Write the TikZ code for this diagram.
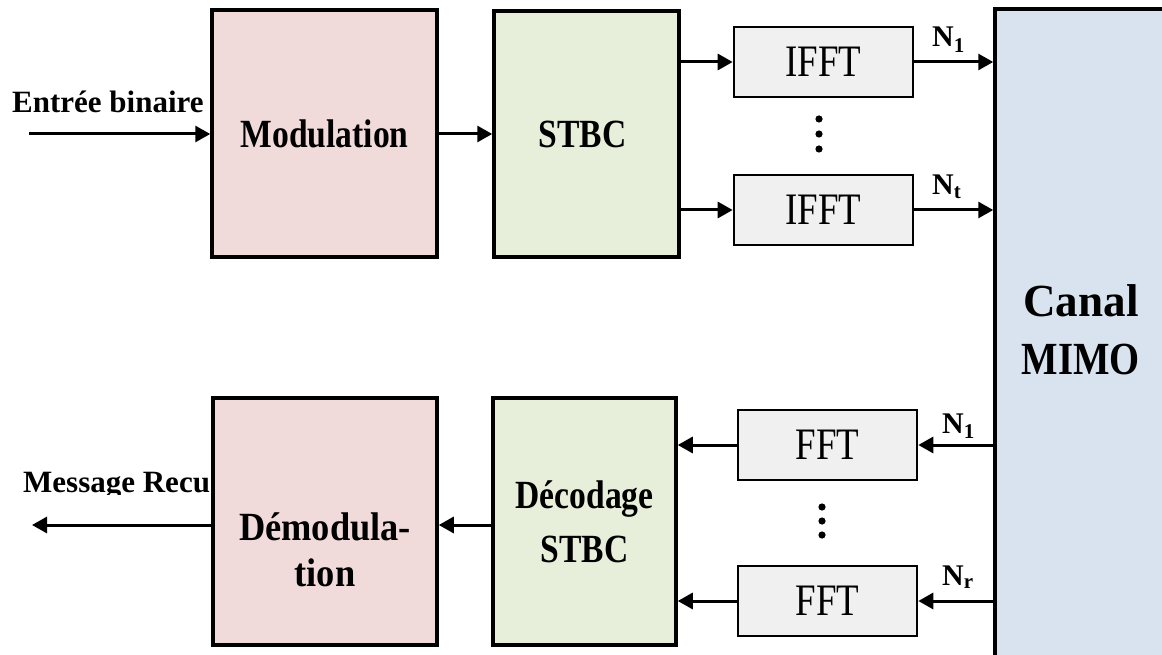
\documentclass[tikz,border=0pt]{standalone}
\usepackage{fontspec}
\setmainfont{Liberation Serif}
\newfontfamily\condf[FakeStretch=0.84]{Liberation Serif}
\newfontfamily\condg[FakeStretch=0.91]{Liberation Serif}
\newfontfamily\condr[FakeStretch=0.82]{Liberation Serif}
\usetikzlibrary{arrows.meta}
\definecolor{pinkfill}{HTML}{F1DADA}
\definecolor{greenfill}{HTML}{E7EFDA}
\definecolor{greyfill}{HTML}{F0F0F0}
\definecolor{bluefill}{HTML}{D9E3F0}
\tikzset{
  bigbox/.style={draw=black, line width=3.5pt, inner sep=0pt},
  smallbox/.style={draw=black, line width=2.6pt, fill=greyfill, inner sep=0pt,
    minimum width=179pt, minimum height=70pt,
    font=\condr\fontsize{45}{50}\selectfont},
  boldlab/.style={font=\condf\bfseries\fontsize{40}{45}\selectfont, inner sep=0pt, align=center},
  sidelab/.style={font=\bfseries\fontsize{31}{36}\selectfont, inner sep=0pt, anchor=base west},
  nlab/.style={font=\bfseries\fontsize{30}{34}\selectfont, inner sep=0pt, anchor=base west},
  arr/.style={line width=3pt, -{Triangle[length=15pt,width=16pt]}},
  dotc/.style={fill=black},
}
\begin{document}
\begin{tikzpicture}[x=1pt,y=-1pt]
\useasboundingbox (0,0) rectangle (1162,655);
% transmitter
\node[bigbox, fill=pinkfill, minimum width=225pt, minimum height=247pt, boldlab] (mod) at (324.5,133.5) {Modulation};
\node[bigbox, fill=greenfill, minimum width=185pt, minimum height=246pt, boldlab] (stbc) at (586.5,134) {\hspace*{-8pt}STBC};
\node[smallbox] (ifft1) at (823.5,62) {IFFT};
\node[smallbox] (ifft2) at (823.5,210) {IFFT};
% channel
\node[bigbox, fill=bluefill, minimum width=205pt, minimum height=691pt] (canal) at (1097.5,354.5) {};
\node[font=\bfseries\fontsize{46}{58}\selectfont, inner sep=0pt, align=center] (canalt) at (1081,330)
  {\scalebox{0.98}[1]{Canal}\\\scalebox{0.84}[1]{MIMO}};
% receiver
\node[bigbox, fill=pinkfill, minimum width=224pt, minimum height=247pt] (dmod) at (325,521.5) {};
\node[boldlab, font=\condg\bfseries\fontsize{40}{46}\selectfont] (dmodt) at (325,550) {Démodula-\\tion};
\node[bigbox, fill=greenfill, minimum width=183pt, minimum height=247pt, boldlab,
  font=\condf\bfseries\fontsize{40}{54}\selectfont] (dec) at (584.5,521.5) {Décodage\\STBC};
\node[smallbox] (fft1) at (827.5,445) {FFT};
\node[smallbox] (fft2) at (827.5,601) {FFT};
% labels
\node[sidelab] (inlab) at (12,113) {Entrée binaire};
\begin{scope}
\clip (0,450) rectangle (211,494);
\node[sidelab] (outlab) at (23,492) {Message Recu};
\end{scope}
\node[nlab] (n1t) at (932,47) {N\textsubscript{1}};
\node[nlab] (ntt) at (932,195) {N\textsubscript{t}};
\node[nlab] (n1r) at (942,433) {N\textsubscript{1}};
\node[nlab] (nrr) at (942,585) {N\textsubscript{r}};
% coordinates
\coordinate (in) at (29,134);
\coordinate (out) at (32,525);
% arrows transmitter
\draw[arr] (in) -- (mod.west |- in);
\draw[arr] (mod.east |- in) -- (stbc.west |- in);
\draw[arr] (stbc.east |- ifft1.west) -- (ifft1.west);
\draw[arr] (stbc.east |- ifft2.west) -- (ifft2.west);
\draw[arr] (ifft1.east) -- (canal.west |- ifft1.east);
\draw[arr] (ifft2.east) -- (canal.west |- ifft2.east);
% arrows receiver
\draw[arr] (canal.west |- fft1.east) -- (fft1.east);
\draw[arr] (canal.west |- fft2.east) -- (fft2.east);
\draw[arr] (fft1.west) -- (dec.east |- fft1.west);
\draw[arr] (fft2.west) -- (dec.east |- fft2.west);
\draw[arr] (dec.west |- out) -- (dmod.east |- out);
\draw[arr] (dmod.west |- out) -- (out);
% dots
\foreach \yy in {119,134,149} \fill[dotc] (819,\yy) circle (3.6pt);
\foreach \yy in {507,521,535} \fill[dotc] (822,\yy) circle (3.6pt);
\end{tikzpicture}
\end{document}
